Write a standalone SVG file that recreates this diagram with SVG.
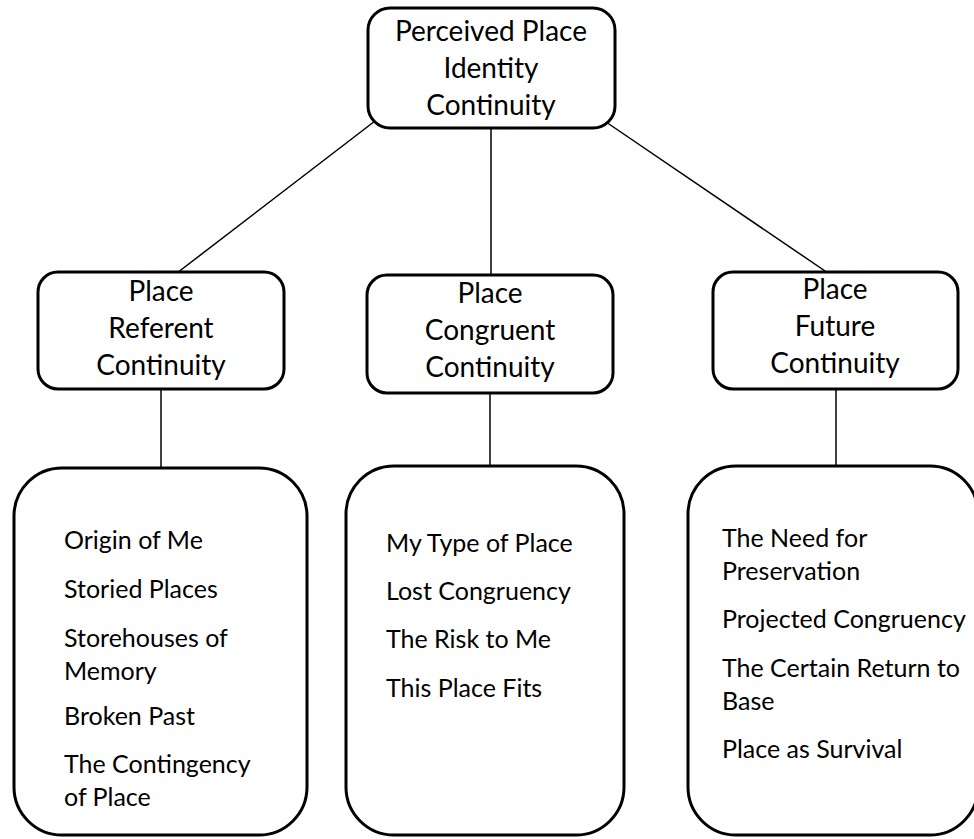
<svg xmlns="http://www.w3.org/2000/svg" width="974" height="839" viewBox="0 0 974 839">
<style>
.box{fill:#fff;stroke:#000;stroke-width:3}
.big{fill:#fff;stroke:#000;stroke-width:3}
.t{font-family:Lato,"Open Sans","Liberation Sans",sans-serif;fill:#000}
.h{font-size:28px;text-anchor:middle}
.l{font-size:25px}
.c{stroke:#000;stroke-width:1.5;fill:none}
</style>
<rect width="974" height="839" fill="#fff"/>
<g id="connectors">
<line class="c" x1="375" y1="121" x2="177" y2="273"/>
<line class="c" x1="491" y1="128" x2="491" y2="276"/>
<line class="c" x1="606" y1="122" x2="828" y2="273"/>
<line class="c" x1="161" y1="389" x2="161" y2="468"/>
<line class="c" x1="490" y1="393" x2="490" y2="467"/>
<line class="c" x1="836" y1="389" x2="836" y2="467"/>
</g>
<g id="root">
<rect class="box" x="368" y="8" width="247" height="120" rx="22"/>
<text class="t h" x="491"><tspan x="491" y="41">Perceived Place</tspan><tspan x="491" y="78">Identity</tspan><tspan x="491" y="115">Continuity</tspan></text>
</g>
<g id="referent">
<rect class="box" x="38" y="272" width="246" height="117" rx="20"/>
<text class="t h"><tspan x="161" y="301">Place</tspan><tspan x="161" y="338">Referent</tspan><tspan x="161" y="375">Continuity</tspan></text>
</g>
<g id="congruent">
<rect class="box" x="367" y="275" width="246" height="118" rx="20"/>
<text class="t h"><tspan x="490" y="303">Place</tspan><tspan x="490" y="340">Congruent</tspan><tspan x="490" y="377">Continuity</tspan></text>
</g>
<g id="future">
<rect class="box" x="713" y="272" width="245" height="117" rx="20"/>
<text class="t h"><tspan x="835" y="299">Place</tspan><tspan x="835" y="336">Future</tspan><tspan x="835" y="373">Continuity</tspan></text>
</g>
<g id="referent-list">
<rect class="big" x="14" y="468" width="293" height="367" rx="48"/>
<text class="t l"><tspan x="64" y="549">Origin of Me</tspan><tspan x="64" y="598">Storied Places</tspan><tspan x="64" y="647">Storehouses of</tspan><tspan x="64" y="680">Memory</tspan><tspan x="64" y="725">Broken Past</tspan><tspan x="64" y="773">The Contingency</tspan><tspan x="64" y="806">of Place</tspan></text>
</g>
<g id="congruent-list">
<rect class="big" x="346" y="466" width="278" height="369" rx="48"/>
<text class="t l"><tspan x="386" y="552">My Type of Place</tspan><tspan x="386" y="600">Lost Congruency</tspan><tspan x="386" y="648">The Risk to Me</tspan><tspan x="386" y="697">This Place Fits</tspan></text>
</g>
<g id="future-list">
<rect class="big" x="688" y="466" width="290" height="369" rx="48"/>
<text class="t l"><tspan x="722" y="547">The Need for</tspan><tspan x="722" y="580">Preservation</tspan><tspan x="722" y="628">Projected Congruency</tspan><tspan x="722" y="677">The Certain Return to</tspan><tspan x="722" y="710">Base</tspan><tspan x="722" y="758">Place as Survival</tspan></text>
</g>
</svg>
